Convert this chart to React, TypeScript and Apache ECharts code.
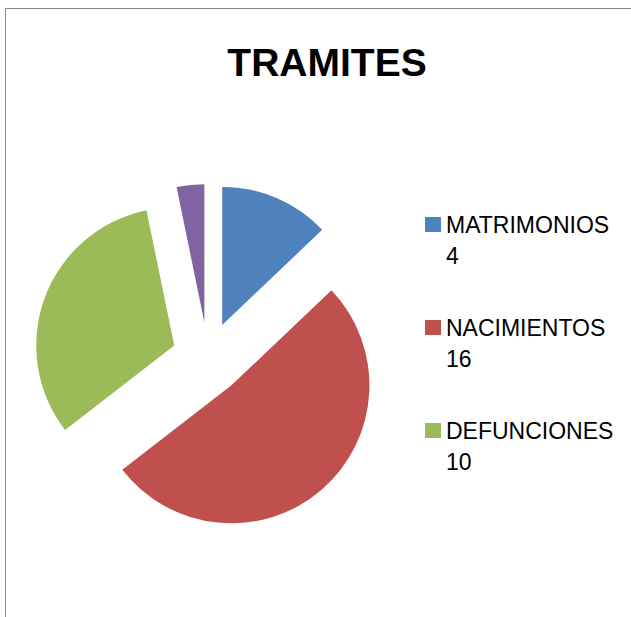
import React, { useEffect, useRef } from "react";
import * as echarts from "echarts";

const titleText = "TRAMITES";
const categories = ["MATRIMONIOS", "NACIMIENTOS", "DEFUNCIONES", ""];
const values = [4, 16, 10, 1];
const colors = ["#4F81BD", "#C0504D", "#9BBB59", "#8064A2"];
const legendNames = ["MATRIMONIOS", "NACIMIENTOS", "DEFUNCIONES"];

export default function App() {
  const ref = useRef<HTMLDivElement>(null);
  useEffect(() => {
    if (!ref.current) return;
    const chart = echarts.init(ref.current, null, { renderer: "svg" });
    chart.setOption({
      animation: false,
      backgroundColor: "#fff",
      title: {
        text: titleText,
        left: 322,
        textAlign: "center",
        top: 38,
        textStyle: { fontFamily: "Liberation Sans", fontWeight: "bold", fontSize: 39, color: "#000" },
      },
      graphic: [
        {
          type: "rect",
          shape: { x: 5.5, y: 8.5, width: 700, height: 700 },
          style: { fill: "none", stroke: "#898989", lineWidth: 1 },
          silent: true,
        },
      ],
      legend: {
        data: legendNames,
        orient: "vertical",
        left: 425,
        top: 178,
        padding: 0,
        itemWidth: 16,
        itemHeight: 15,
        itemGap: 10,
        icon: "rect",
        selectedMode: false,
        formatter: (name: string) => `\n${name}\n${values[categories.indexOf(name)]}`,
        textStyle: {
          fontFamily: "Liberation Sans",
          fontSize: 23,
          color: "#000",
          lineHeight: 31,
        },
      },
      series: [
        {
          type: "pie",
          center: [208, 358],
          radius: 138,
          startAngle: 90,
          clockwise: true,
          selectedMode: "multiple",
          selectedOffset: 36,
          label: { show: false },
          labelLine: { show: false },
          emphasis: { disabled: true },
          data: categories.map((c, i) => ({
            name: c,
            value: values[i],
            selected: true,
            itemStyle: { color: colors[i] },
          })),
        },
      ],
    });
    return () => chart.dispose();
  }, []);
  return (
    <div
      ref={ref}
      style={{ position: "fixed", left: 0, top: 0, width: 631, height: 617 }}
    />
  );
}
